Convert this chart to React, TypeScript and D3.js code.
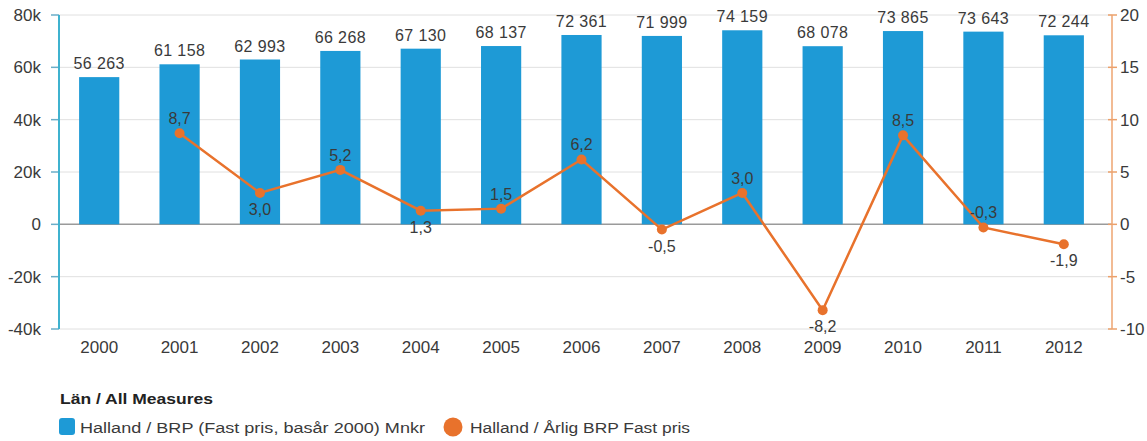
import React from "react";
import * as d3 from "d3";

const years = ["2000","2001","2002","2003","2004","2005","2006","2007","2008","2009","2010","2011","2012"];
const brp = [56263, 61158, 62993, 66268, 67130, 68137, 72361, 71999, 74159, 68078, 73865, 73643, 72244];
const growth = [null, 8.7, 3.0, 5.2, 1.3, 1.5, 6.2, -0.5, 3.0, -8.2, 8.5, -0.3, -1.9];
const growthLabelBelow = [false, false, true, false, true, false, false, true, false, true, false, false, true];
const leftTicks = [-40000, -20000, 0, 20000, 40000, 60000, 80000];
const rightTicks = [-10, -5, 0, 5, 10, 15, 20];
const legendTitle = "Län / All Measures";
const seriesNames = ["Halland / BRP (Fast pris, basår 2000) Mnkr", "Halland / Årlig BRP Fast pris"];

const W = 1147, H = 441;
const m = { left: 59, right: 1112, top: 15, bottom: 329 };
const FONT = "'Liberation Sans', Arial, sans-serif";
const BLUE = "#1e9ad6";
const ORANGE = "#e8722c";
const TXT = "#3a3a3a";

export default function App() {
  const x = d3.scaleBand<string>().domain(years).range([59, 1104]).paddingInner(0.5).paddingOuter(0.25);
  const yL = d3.scaleLinear().domain([-40000, 80000]).range([m.bottom, m.top]);
  const yR = d3.scaleLinear().domain([-10, 20]).range([m.bottom, m.top]);
  const fmtK = (v: number) => (v === 0 ? "0" : `${v / 1000}k`);
  const fmtN = (v: number) => d3.format(",")(v).replace(/,/g, " ");
  const fmtD = (v: number) => v.toFixed(1).replace(".", ",");

  const pts = years
    .map((yr, i) => ({ yr, v: growth[i], below: growthLabelBelow[i] }))
    .filter((d) => d.v !== null) as { yr: string; v: number; below: boolean }[];
  const cx = (yr: string) => (x(yr) as number) + x.bandwidth() / 2;
  const line = d3.line<{ yr: string; v: number }>().x((d) => cx(d.yr)).y((d) => yR(d.v));

  return (
    <svg width={W} height={H} style={{ position: "absolute", left: 0, top: 0, background: "#fff" }} fontFamily={FONT}>
      {leftTicks.map((t) => (
        <g key={t}>
          <line x1={m.left} x2={m.right} y1={yL(t)} y2={yL(t)} stroke={t === 0 ? "#9a9a9a" : "#e0e0e0"} strokeWidth={t === 0 ? 1.5 : 1} />
          <line x1={m.left - 8} x2={m.left} y1={yL(t)} y2={yL(t)} stroke="#6aaec8" strokeWidth={1.5} />
          <text x={41} y={yL(t)} dy="0.35em" textAnchor="end" fontSize={17} fill={TXT}>{fmtK(t)}</text>
        </g>
      ))}
      {rightTicks.map((t) => (
        <g key={t}>
          <line x1={m.right - 4} x2={m.right + 5} y1={yR(t)} y2={yR(t)} stroke="#eba06a" strokeWidth={1.5} />
          <text x={m.right + 8} y={yR(t)} dy="0.35em" textAnchor="start" fontSize={17} fill={TXT}>{t}</text>
        </g>
      ))}
      <line x1={m.left} x2={m.left} y1={m.top} y2={m.bottom} stroke="#3fb2cf" strokeWidth={2} />
      <line x1={m.right} x2={m.right} y1={m.top} y2={m.bottom} stroke="#eea470" strokeWidth={1.5} />
      {years.map((yr, i) => (
        <g key={yr}>
          <rect x={x(yr)} y={yL(brp[i])} width={x.bandwidth()} height={yL(0) - yL(brp[i])} fill={BLUE} />
          <text x={cx(yr)} y={yL(brp[i]) - 8} textAnchor="middle" fontSize={16} letterSpacing={0.4} fill={TXT}>{fmtN(brp[i])}</text>
          <text x={cx(yr)} y={m.bottom + 24} textAnchor="middle" fontSize={17} fill={TXT}>{yr}</text>
        </g>
      ))}
      <path d={line(pts) as string} fill="none" stroke={ORANGE} strokeWidth={2.5} />
      {pts.map((d) => (
        <g key={d.yr}>
          <circle cx={cx(d.yr)} cy={yR(d.v)} r={5} fill={ORANGE} />
          <text x={cx(d.yr)} y={d.below ? yR(d.v) + 22 : yR(d.v) - 9} textAnchor="middle" fontSize={16} fill={TXT}>{fmtD(d.v)}</text>
        </g>
      ))}
      <text x={60} y={404} fontSize={15} fontWeight="bold" fill="#222" textLength={153} lengthAdjust="spacingAndGlyphs">{legendTitle}</text>
      <rect x={59} y={418} width={16} height={17} rx={3} fill={BLUE} />
      <text x={80} y={433} fontSize={15.5} fill={TXT} textLength={345} lengthAdjust="spacingAndGlyphs">{seriesNames[0]}</text>
      <circle cx={453} cy={427} r={9.5} fill={ORANGE} />
      <text x={470} y={433} fontSize={15.5} fill={TXT} textLength={220} lengthAdjust="spacingAndGlyphs">{seriesNames[1]}</text>
    </svg>
  );
}
